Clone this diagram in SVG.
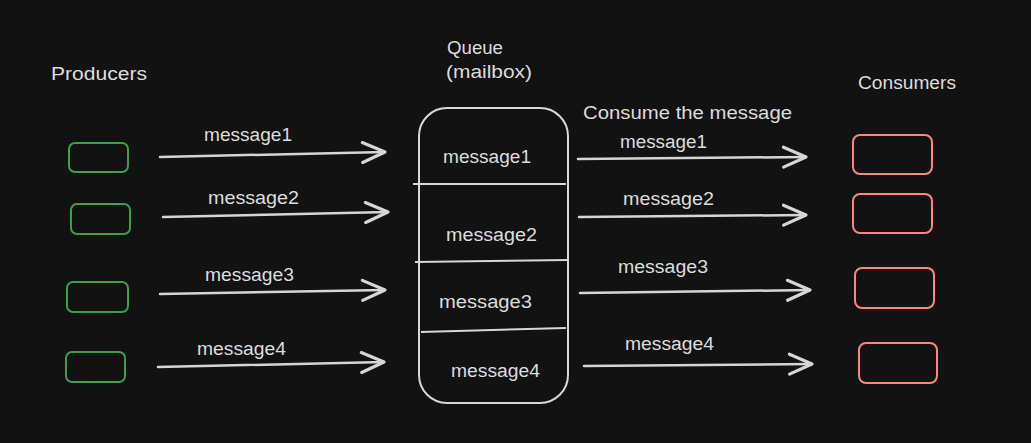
<svg xmlns="http://www.w3.org/2000/svg" width="1031" height="443" viewBox="0 0 1031 443">
<defs>
<style>
.t{font-family:"Liberation Sans","Noto Sans",sans-serif;font-size:18px;fill:#dcdcdc;}
.p{fill:none;stroke:#3aa04f;stroke-width:2;}
.c{fill:none;stroke:#ff8383;stroke-width:2;}
.q{fill:none;stroke:#d8d8d8;stroke-width:2;}
.a{fill:none;stroke:#d6d6d6;stroke-width:2.5;stroke-linecap:round;}
</style>
<marker id="ah" markerUnits="userSpaceOnUse" markerWidth="30" markerHeight="30" refX="0" refY="0" viewBox="-20 -12 24 24" orient="auto" overflow="visible">
<path d="M-18,-8 L0,0 L-18,8" fill="none" stroke="#d6d6d6" stroke-width="2.5" stroke-linecap="round" stroke-linejoin="round"/>
</marker>
</defs>
<rect width="1031" height="443" fill="#121212"/>

<text class="t" x="51" y="80" textLength="96" lengthAdjust="spacingAndGlyphs">Producers</text>
<text class="t" x="447" y="54" textLength="56" lengthAdjust="spacingAndGlyphs">Queue</text>
<text class="t" x="446" y="78" textLength="86" lengthAdjust="spacingAndGlyphs">(mailbox)</text>
<text class="t" x="583" y="119" textLength="209" lengthAdjust="spacingAndGlyphs">Consume the message</text>
<text class="t" x="858" y="89" textLength="98" lengthAdjust="spacingAndGlyphs">Consumers</text>

<g id="producer1"><rect class="p" x="69" y="143" width="59" height="29" rx="6"/></g>
<g id="producer2"><rect class="p" x="71" y="204" width="59" height="30" rx="6"/></g>
<g id="producer3"><rect class="p" x="67" y="282" width="61" height="30" rx="6"/></g>
<g id="producer4"><rect class="p" x="66" y="352" width="59" height="30" rx="6"/></g>

<g id="queue">
<rect class="q" x="419" y="108" width="149" height="295" rx="28"/>
<path class="q" d="M413,184 L566,184"/>
<path class="q" d="M415,262 L568,260"/>
<path class="q" d="M421,332 L566,328"/>
<text class="t" x="443" y="163" textLength="88" lengthAdjust="spacingAndGlyphs">message1</text>
<text class="t" x="446" y="241" textLength="91" lengthAdjust="spacingAndGlyphs">message2</text>
<text class="t" x="439" y="308" textLength="93" lengthAdjust="spacingAndGlyphs">message3</text>
<text class="t" x="451" y="377" textLength="89" lengthAdjust="spacingAndGlyphs">message4</text>
</g>

<g id="consumer1"><rect class="c" x="853" y="135" width="79" height="39" rx="7"/></g>
<g id="consumer2"><rect class="c" x="853" y="194" width="79" height="39" rx="7"/></g>
<g id="consumer3"><rect class="c" x="855" y="268" width="79" height="40" rx="7"/></g>
<g id="consumer4"><rect class="c" x="859" y="343" width="78" height="40" rx="7"/></g>

<g id="connectors">
<path class="a" d="M160,157 L385,152" marker-end="url(#ah)"/>
<path class="a" d="M163,217 L388,212" marker-end="url(#ah)"/>
<path class="a" d="M160,294 L385,290" marker-end="url(#ah)"/>
<path class="a" d="M158,367 L384,362" marker-end="url(#ah)"/>
<path class="a" d="M578,159 L806,157" marker-end="url(#ah)"/>
<path class="a" d="M579,217 L806,215" marker-end="url(#ah)"/>
<path class="a" d="M580,293 L810,290" marker-end="url(#ah)"/>
<path class="a" d="M584,366 L812,364" marker-end="url(#ah)"/>
<text class="t" x="204" y="141" textLength="88" lengthAdjust="spacingAndGlyphs">message1</text>
<text class="t" x="208" y="204" textLength="91" lengthAdjust="spacingAndGlyphs">message2</text>
<text class="t" x="205" y="281" textLength="89" lengthAdjust="spacingAndGlyphs">message3</text>
<text class="t" x="197" y="355" textLength="89" lengthAdjust="spacingAndGlyphs">message4</text>
<text class="t" x="620" y="148" textLength="87" lengthAdjust="spacingAndGlyphs">message1</text>
<text class="t" x="623" y="205" textLength="91" lengthAdjust="spacingAndGlyphs">message2</text>
<text class="t" x="618" y="273" textLength="90" lengthAdjust="spacingAndGlyphs">message3</text>
<text class="t" x="625" y="350" textLength="89" lengthAdjust="spacingAndGlyphs">message4</text>
</g>
</svg>
